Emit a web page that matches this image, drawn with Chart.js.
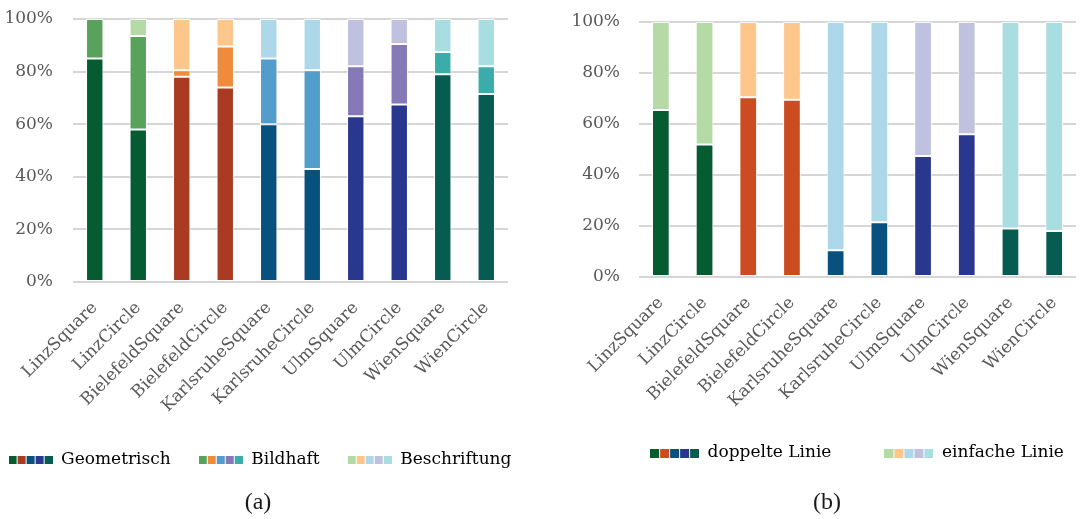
<!DOCTYPE html>
<html><head><meta charset="utf-8">
<script src="https://cdn.jsdelivr.net/npm/chart.js@4.4.1/dist/chart.umd.min.js"></script>
<style>
html,body{margin:0;padding:0;background:#fff;width:1088px;height:519px;overflow:hidden;position:relative}
#wa{position:absolute;left:-60px;top:0}
#wb{position:absolute;left:555px;top:0}
canvas{display:block}
.cap{position:absolute;top:487px;width:100px;text-align:center;font-family:'Liberation Serif',serif;font-size:24px;line-height:28px;color:#1a1a1a}
#capa{left:208px}
#capb{left:777px}
</style></head><body>
<div id="wa"><canvas id="ca" width="640" height="519"></canvas></div>
<div id="wb"><canvas id="cb" width="600" height="519"></canvas></div>
<div class="cap" id="capa">(a)</div>
<div class="cap" id="capb">(b)</div>
<script>
// ---- data ----
const categories = ['LinzSquare','LinzCircle','BielefeldSquare','BielefeldCircle','KarlsruheSquare','KarlsruheCircle','UlmSquare','UlmCircle','WienSquare','WienCircle'];
const yTicks = [0, 20, 40, 60, 80, 100];
// (a)
const geometrisch  = [85, 58, 78, 74, 60, 43, 63, 67.5, 79, 71.5];
const bildhaft     = [15, 35.5, 2.5, 15.5, 25, 37.5, 19, 23, 8.5, 10.5];
const beschriftung = [0, 6.5, 19.5, 10.5, 15, 19.5, 18, 9.5, 12.5, 18];
// (b)
const doppelteLinie = [65.5, 52, 70.5, 69.5, 10.5, 21.5, 47.5, 56, 19, 18];
const einfacheLinie = [34.5, 48, 29.5, 30.5, 89.5, 78.5, 52.5, 44, 81, 82];
const labelsA = ['Geometrisch', 'Bildhaft', 'Beschriftung'];
const labelsB = ['doppelte Linie', 'einfache Linie'];

// ---- styles ----
const darkA  = ['#065c31', '#aa3a22', '#08517f', '#29378e', '#065c51'];
const darkB  = ['#065c31', '#cc4c21', '#08517f', '#29378e', '#065c51'];
const mid    = ['#59a25c', '#ee8b3c', '#529dcb', '#8579b8', '#3aacaa'];
const light  = ['#b4dba6', '#fdc68a', '#acd8ea', '#c0c1de', '#a8dde1'];
const perBar = c => c.flatMap(v => [v, v]);

const FONT = "'DejaVu Serif', serif";
const TXT = '#595959';
const GRID = '#d6d6d6';

function swatch(colors, size, gap) {
  const c = document.createElement('canvas');
  c.width = colors.length * size + (colors.length - 1) * gap;
  c.height = size;
  const x = c.getContext('2d');
  colors.forEach((col, i) => { x.fillStyle = col; x.fillRect(i * (size + gap), 0, size, size); });
  return c;
}

function makeChart(id, datasets, swatches, cfg) {
  return new Chart(document.getElementById(id), {
    type: 'bar',
    data: { labels: categories, datasets },
    plugins: [{
      id: 'legendPlace',
      afterLayout(chart) {
        const lg = chart.legend;
        const dx = cfg.legendCenter - (lg.left + lg.right) / 2;
        lg.left += dx; lg.right += dx;
        lg.top += cfg.legendDy; lg.bottom += cfg.legendDy;
      }
    }],
    options: {
      responsive: false,
      animation: false,
      layout: { padding: { top: cfg.top, right: cfg.right, left: 0, bottom: cfg.bottom } },
      datasets: { bar: { barPercentage: cfg.barPct, categoryPercentage: 1, borderWidth: 1, borderColor: 'rgba(255,255,255,0.85)', borderSkipped: false } },
      scales: {
        x: {
          stacked: true,
          grid: { display: false },
          border: { display: false },
          ticks: { autoSkip: false, minRotation: 45, maxRotation: 45, padding: 8, color: TXT, font: { family: FONT, size: 17 } },
          afterFit: s => { s.height = cfg.xH; s.paddingLeft = 0; s.paddingRight = 0; }
        },
        y: {
          stacked: true, min: 0, max: 100,
          afterBuildTicks: s => { s.ticks = yTicks.map(v => ({ value: v })); },
          grid: { color: GRID, lineWidth: 2, drawTicks: false },
          border: { display: false },
          ticks: { padding: cfg.tickPad, color: TXT, font: { family: FONT, size: 17 }, callback: v => v + '%' },
          afterFit: s => { s.width = cfg.yW; s.paddingTop = 0; s.paddingBottom = 0; }
        }
      },
      plugins: {
        tooltip: { enabled: false },
        title: { display: false },
        legend: {
          position: 'bottom',
          labels: {
            usePointStyle: true,
            pointStyleWidth: swatches[0].width,
            padding: cfg.legendPad,
            color: TXT,
            font: { family: FONT, size: 17 },
            generateLabels: ch => ch.data.datasets.map((ds, i) => ({
              text: ds.label, pointStyle: swatches[i], fillStyle: 'transparent',
              strokeStyle: 'transparent', lineWidth: 0, hidden: false, datasetIndex: i
            }))
          }
        }
      }
    }
  });
}

makeChart('ca', [
  { label: labelsA[0], data: geometrisch,  backgroundColor: perBar(darkA), stack: 's' },
  { label: labelsA[1], data: bildhaft,     backgroundColor: perBar(mid),   stack: 's' },
  { label: labelsA[2], data: beschriftung, backgroundColor: perBar(light), stack: 's' }
], [swatch(darkA, 8, 1), swatch(mid, 8, 1), swatch(light, 8, 1)],
{ top: 19, right: 72, bottom: 40.5, barPct: 0.4, xH: 141.5, yW: 133, tickPad: 20, legendPad: 28, legendCenter: 320, legendDy: 0 });

makeChart('cb', [
  { label: labelsB[0], data: doppelteLinie, backgroundColor: perBar(darkB), stack: 's' },
  { label: labelsB[1], data: einfacheLinie, backgroundColor: perBar(light), stack: 's' }
], [swatch(darkB, 9, 1), swatch(light, 9, 1)],
{ top: 22, right: 79, bottom: 22, barPct: 0.405, xH: 140, yW: 84, tickPad: 19, legendPad: 53, legendCenter: 302, legendDy: -25.5 });
</script>
</body></html>
